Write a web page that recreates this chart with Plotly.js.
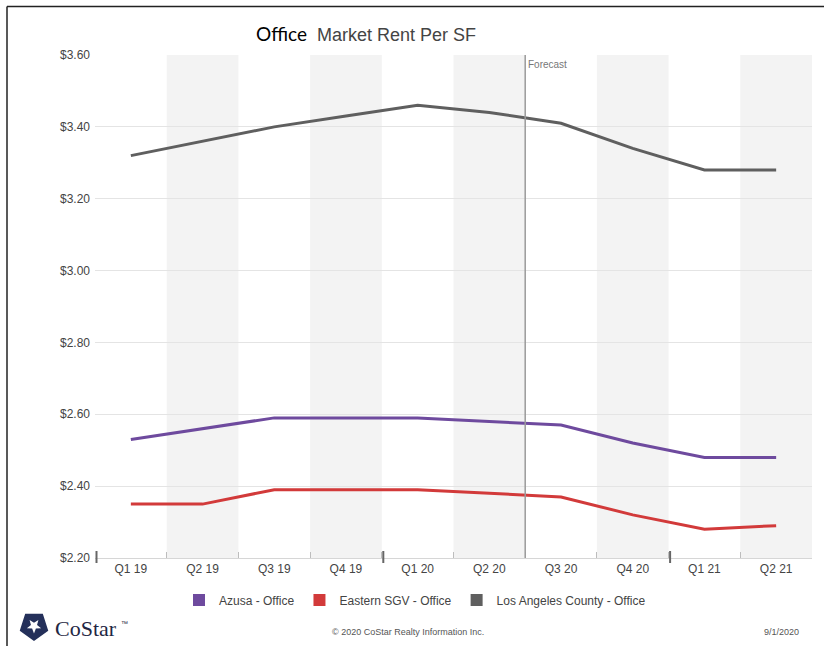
<!DOCTYPE html>
<html>
<head>
<meta charset="utf-8">
<script src="https://cdn.plot.ly/plotly-3.0.1.min.js"></script>
<style>
html,body{margin:0;padding:0;background:#fff;}
#chart{width:824px;height:646px;}
</style>
</head>
<body>
<div id="chart"></div>
<script>
// ---- data ----
const quarters = ["Q1 19","Q2 19","Q3 19","Q4 19","Q1 20","Q2 20","Q3 20","Q4 20","Q1 21","Q2 21"];
const azusa      = [2.53, 2.56, 2.59, 2.59, 2.59, 2.58, 2.57, 2.52, 2.48, 2.48];
const easternSGV = [2.35, 2.35, 2.39, 2.39, 2.39, 2.38, 2.37, 2.32, 2.28, 2.29];
const laCounty   = [3.32, 3.36, 3.40, 3.43, 3.46, 3.44, 3.41, 3.34, 3.28, 3.28];
const seriesNames = ["Azusa - Office", "Eastern SGV - Office", "Los Angeles County - Office"];
const forecastAfterIndex = 5; // forecast starts after Q2 20
const yearBoundaryIndex = [-0.5, 3.5, 7.5];

// ---- styles ----
const colors = ["#6e4a9e", "#d23a3a", "#5f5f5f"];
const W = 824, H = 646, ML = 95, MR = 12, MT = 55, MB = 88;
const PW = W - ML - MR, PH = H - MT - MB;
const px = x => (x - ML) / PW;
const py = y => (H - MB - y) / PH;

const allSeries = [azusa, easternSGV, laCounty];
const traces = [];
allSeries.forEach((s, i) => {
  traces.push({
    type: 'scatter', mode: 'lines', x: quarters, y: s, name: seriesNames[i],
    line: {color: colors[i], width: 3}, showlegend: false, hoverinfo: 'x+y'
  });
});
// legend entries with square swatches
seriesNames.forEach((n, i) => {
  traces.push({
    type: 'scatter', mode: 'markers', x: [null], y: [null], name: n,
    marker: {symbol: 'square', size: 12, color: colors[i]}, showlegend: true
  });
});

const shapes = [];
// alternating shaded columns
quarters.forEach((q, i) => {
  if (i % 2 === 1) {
    shapes.push({type: 'rect', xref: 'x', yref: 'paper', x0: i - 0.5, x1: i + 0.5, y0: 0, y1: 1,
      fillcolor: '#f3f3f3', line: {width: 0}, layer: 'below'});
  }
});
// forecast divider
shapes.push({type: 'line', xref: 'x', yref: 'paper', x0: forecastAfterIndex + 0.5, x1: forecastAfterIndex + 0.5,
  y0: 0, y1: 1, line: {color: '#9a9a9a', width: 1.5}});
// year boundary ticks (paper coords so they are not clipped)
yearBoundaryIndex.forEach(b => {
  const xp = (b + 0.5) / quarters.length + 1.5 / PW;
  shapes.push({type: 'line', xref: 'paper', yref: 'paper', x0: xp, x1: xp, y0: py(563), y1: py(551),
    line: {color: '#666', width: 2}});
});
// frame
shapes.push({type: 'line', xref: 'paper', yref: 'paper', x0: px(7), x1: px(824), y0: py(6.5), y1: py(6.5),
  line: {color: '#222', width: 1.5}});
shapes.push({type: 'line', xref: 'paper', yref: 'paper', x0: px(7), x1: px(7), y0: py(6.5), y1: py(646),
  line: {color: '#222', width: 1.5}});

// CoStar icon: pentagon with star cut-out
(function(){
  const cx = 34, cy = 626, R = 15, r1 = 7.5, r2 = 3.2;
  let d = '';
  for (let k = 0; k < 5; k++) {
    const a = -Math.PI/2 + k * 2*Math.PI/5 + Math.PI/5;
    const X = cx + R*Math.cos(a), Y = cy + R*Math.sin(a);
    d += (k === 0 ? 'M' : 'L') + px(X).toFixed(5) + ',' + py(Y).toFixed(5);
  }
  d += 'Z';
  for (let k = 0; k < 10; k++) {
    const a = -Math.PI/2 + k * Math.PI/5 + Math.PI/5;
    const rr = (k % 2 === 0) ? r1 : r2;
    const X = cx + rr*Math.cos(a), Y = cy + rr*Math.sin(a);
    d += (k === 0 ? 'M' : 'L') + px(X).toFixed(5) + ',' + py(Y).toFixed(5);
  }
  d += 'Z';
  shapes.push({type: 'path', xref: 'paper', yref: 'paper', path: d, fillcolor: '#24305a',
    fillrule: 'evenodd', line: {width: 0}});
})();

const annotations = [
  {xref: 'x', yref: 'paper', x: forecastAfterIndex + 0.5, y: 1, xanchor: 'left', yanchor: 'top',
   xshift: 1, yshift: -2, text: 'Forecast', showarrow: false,
   font: {family: 'Liberation Sans, Arial, sans-serif', size: 10, color: '#777'}},
  {xref: 'paper', yref: 'paper', x: px(53), y: py(628), xanchor: 'left', yanchor: 'middle',
   text: 'CoStar', showarrow: false,
   font: {family: 'Liberation Serif, DejaVu Serif, serif', size: 22, color: '#1f2744'}},
  {xref: 'paper', yref: 'paper', x: px(119), y: py(623), xanchor: 'left', yanchor: 'middle',
   text: '™', showarrow: false,
   font: {family: 'Liberation Sans, Arial, sans-serif', size: 7, color: '#1f2744'}},
  {xref: 'paper', yref: 'paper', x: px(408), y: py(632), xanchor: 'center', yanchor: 'middle',
   text: '© 2020 CoStar Realty Information Inc.', showarrow: false,
   font: {family: 'Liberation Sans Narrow, Liberation Sans, Arial, sans-serif', size: 9, color: '#555'}},
  {xref: 'paper', yref: 'paper', x: px(801), y: py(632), xanchor: 'right', yanchor: 'middle',
   text: '9/1/2020', showarrow: false,
   font: {family: 'Liberation Sans Narrow, Liberation Sans, Arial, sans-serif', size: 9, color: '#555'}}
];

const layout = {
  width: W, height: H,
  margin: {l: ML, r: MR, t: MT, b: MB, pad: 0},
  paper_bgcolor: '#fff', plot_bgcolor: 'rgba(0,0,0,0)',
  title: {
    text: '<span style="font-family:Lato, Carlito, sans-serif;font-size:19px;color:#000">Office</span>  Market Rent Per SF',
    xref: 'container', yref: 'container', x: 366/W, xanchor: 'center', y: 1 - 35/H, yanchor: 'middle',
    font: {family: 'Liberation Sans Narrow, Liberation Sans, Arial, sans-serif', size: 18, color: '#444'}
  },
  showlegend: true,
  legend: {orientation: 'h', x: px(415), xanchor: 'center', y: py(600), yanchor: 'middle',
    font: {family: 'Liberation Sans, Arial, sans-serif', size: 12, color: '#444'},
    bgcolor: 'rgba(0,0,0,0)', itemclick: false},
  xaxis: {
    type: 'category', categoryarray: quarters, range: [-0.5, quarters.length - 0.5],
    showgrid: false, zeroline: false, showline: true, linecolor: '#d6d6d6', linewidth: 1,
    ticks: 'inside', tickson: 'boundaries', ticklen: 6, tickcolor: '#bdbdbd', tickwidth: 1,
    tickfont: {family: 'Liberation Sans, Arial, sans-serif', size: 12, color: '#444'},
    fixedrange: true
  },
  yaxis: {
    range: [2.2, 3.6], dtick: 0.2, tick0: 2.2, tickformat: '$.2f',
    showgrid: true, gridcolor: '#e4e4e4', gridwidth: 1, zeroline: false, showline: false,
    ticks: '', ticklabelstandoff: 4,
    tickfont: {family: 'Liberation Sans, Arial, sans-serif', size: 12, color: '#444'},
    fixedrange: true
  },
  shapes: shapes,
  annotations: annotations
};

Plotly.newPlot('chart', traces, layout, {displayModeBar: false, staticPlot: true});
</script>
</body>
</html>
